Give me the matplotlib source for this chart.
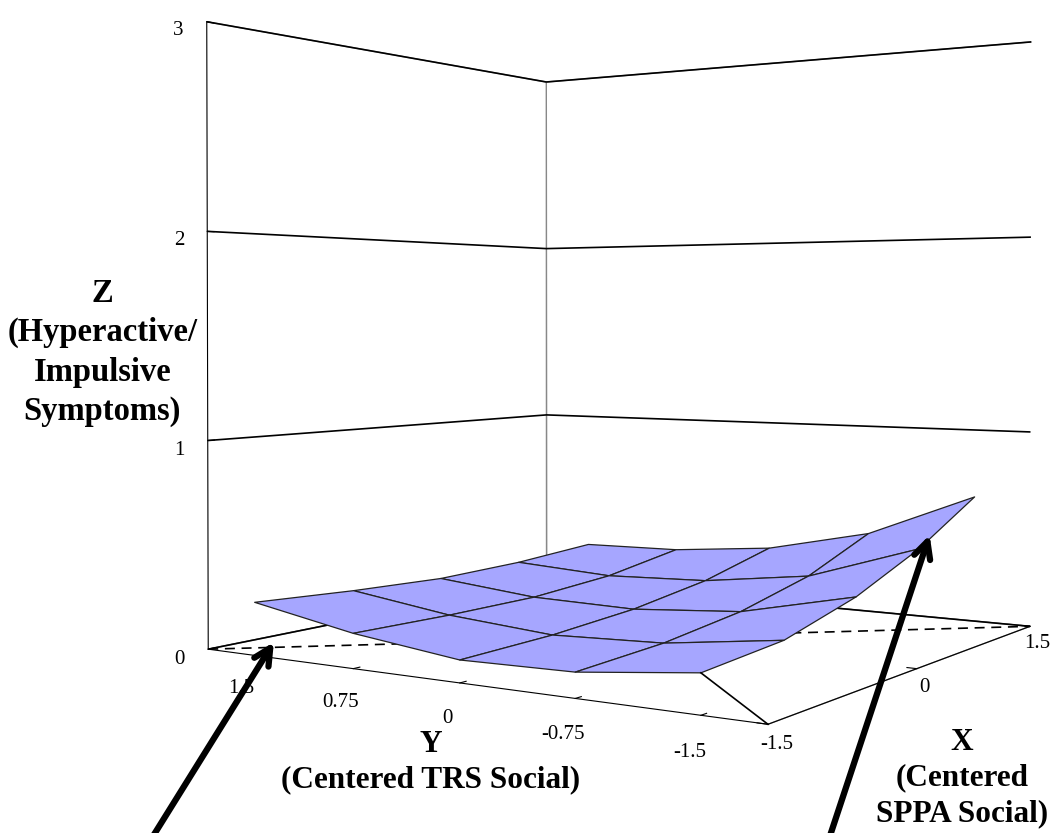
"""
Surface of hyperactive/impulsive symptoms over centered TRS and SPPA social scores
"""

import matplotlib
matplotlib.use("Agg")
import matplotlib.pyplot as plt
import numpy as np

plt.rcParams['font.family'] = ['Liberation Serif', 'DejaVu Serif']

# grid positions (centered scores)
x_vals = [-1.5, -0.75, 0, 0.75, 1.5]      # SPPA social
y_vals = [1.5, 0.75, 0, -0.75, -1.5]      # TRS social
# symptoms, rows follow x_vals, columns follow y_vals
z_vals = [
    [0.25, 0.16, 0.10, 0.11, 0.17],
    [0.22, 0.15, 0.11, 0.13, 0.20],
    [0.20, 0.15, 0.14, 0.18, 0.30],
    [0.21, 0.18, 0.20, 0.27, 0.45],
    [0.24, 0.25, 0.30, 0.42, 0.65],
]
x_ticks = [-1.5, 0, 1.5]
y_ticks = [1.5, 0.75, 0, -0.75, -1.5]
z_ticks = [0, 1, 2, 3]

xlim = 1.5     # series axis runs edge to edge
ylim = 1.875   # category axis keeps half a step either side

fig = plt.figure(figsize=(10.55, 8.33), dpi=100)
ax = fig.add_axes([0.090, 0.084, 1.0, 1.0], projection='3d', computed_zorder=False)
ax.set_proj_type('persp', focal_length=0.42)
ax.view_init(elev=0.6, azim=-147)

X, Y = np.meshgrid(x_vals, y_vals, indexing='ij')
Z = np.array(z_vals)

# dashed diagonal across the floor
ax.plot([-xlim, xlim], [ylim, -ylim], [0, 0], color='black', lw=1.2,
        dashes=(6, 4), zorder=1)
ax.plot_surface(X, Y, Z, color='#a6a6ff', edgecolor='#222222', linewidth=0.9,
                shade=False, zorder=3)
ax.plot([x_vals[0], -xlim], [y_vals[-1], -ylim], [Z[0, -1], 0], color='black',
        lw=1.2, zorder=4)

ax.set_xlim(-xlim, xlim)
ax.set_ylim(-ylim, ylim)
ax.set_zlim(0, 3)
ax.set_xticks(x_ticks)
ax.set_xticklabels([f'{v:g}' for v in x_ticks])
ax.set_yticks(y_ticks)
ax.set_yticklabels([f'{v:g}' for v in y_ticks])
ax.set_zticks(z_ticks)
ax.tick_params(labelsize=15, pad=2)
ax.xaxis.set_tick_params(pad=-4)

for axis in (ax.xaxis, ax.yaxis, ax.zaxis):
    axis.set_pane_color((1, 1, 1, 1))
    axis.pane.set_edgecolor('#888888')
    axis.line.set_color('black')
    axis._axinfo['tick']['inward_factor'] = 0
    axis._axinfo['tick']['outward_factor'] = 0.2
ax.zaxis._axinfo['grid'].update(color='black', linewidth=1.2)
ax.xaxis._axinfo['grid'].update(color=(1, 1, 1, 0))
ax.yaxis._axinfo['grid'].update(color=(1, 1, 1, 0))
ax.set_box_aspect((1, 1.1, 1.08), zoom=1.2)

fig.text(0.097, 0.577, 'Z\n(Hyperactive/\nImpulsive\nSymptoms)', ha='center',
         va='center', fontsize=23.5, fontweight='bold', linespacing=1.35)
fig.text(0.408, 0.085, 'Y\n(Centered TRS Social)', ha='center', va='center',
         fontsize=22.5, fontweight='bold', linespacing=1.27)
fig.text(0.912, 0.066, 'X\n(Centered\nSPPA Social)', ha='center', va='center',
         fontsize=22.5, fontweight='bold', linespacing=1.3)

arrow = dict(arrowstyle='->', lw=4.5, color='black', mutation_scale=30)
ax.annotate('', xy=(0.261, 0.232), xytext=(0.142, -0.01),
            xycoords='figure fraction', textcoords='figure fraction',
            arrowprops=arrow, annotation_clip=False)
ax.annotate('', xy=(0.882, 0.361), xytext=(0.785, -0.01),
            xycoords='figure fraction', textcoords='figure fraction',
            arrowprops=arrow, annotation_clip=False)

fig.savefig('out.png', dpi=100)
